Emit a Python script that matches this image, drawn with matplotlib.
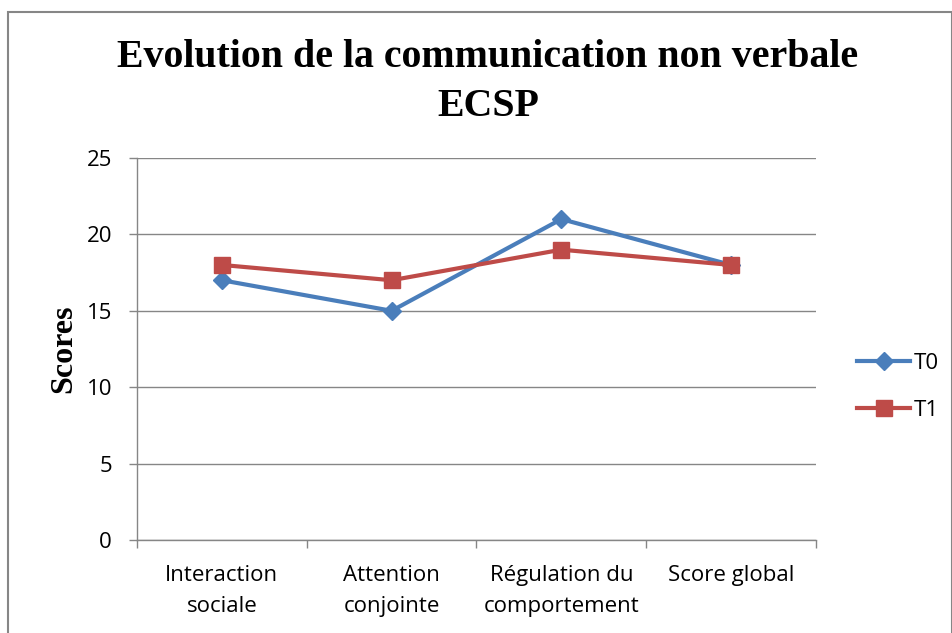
import matplotlib
matplotlib.use("Agg")
import matplotlib.pyplot as plt
from matplotlib.patches import Rectangle

categories = ["Interaction\nsociale", "Attention\nconjointe", "Régulation du\ncomportement", "Score global"]
t0 = [17, 15, 21, 18]
t1 = [18, 17, 19, 18]
yticks = [0, 5, 10, 15, 20, 25]

W, H = 953, 633
fig = plt.figure(figsize=(W / 100, H / 100), dpi=100)
ax = fig.add_axes([137 / W, 1 - 540 / H, (816 - 137) / W, (540 - 158) / H])

x = list(range(len(categories)))
ax.plot(x, t0, color="#4A7EBB", lw=3, marker="D", ms=9, label="T0", zorder=3)
ax.plot(x, t1, color="#BE4B48", lw=3, marker="s", ms=11, label="T1", zorder=3)

ax.set_xlim(-0.5, len(categories) - 0.5)
ax.set_ylim(0, 25)
ax.set_yticks(yticks)
ax.set_yticklabels([str(v) for v in yticks], fontfamily="Open Sans", fontsize=16)
ax.yaxis.grid(True, color="#868686", lw=1)
ax.set_axisbelow(True)

ax.set_xticks(x)
ax.set_xticklabels(categories, fontfamily="Open Sans", fontsize=16, linespacing=1.65)
ax.set_xticks([i - 0.5 for i in range(len(categories) + 1)], minor=True)
ax.tick_params(axis="x", which="major", length=0, pad=18)
ax.tick_params(axis="x", which="minor", length=6, color="#868686", width=1)
ax.tick_params(axis="y", length=6, color="#868686", width=1, pad=12)

for s in ["top", "right"]:
    ax.spines[s].set_visible(False)
for s in ["left", "bottom"]:
    ax.spines[s].set_color("#868686")
    ax.spines[s].set_linewidth(1)

ax.set_ylabel("Scores", fontfamily="Liberation Serif", fontweight="bold", fontsize=23, labelpad=6)

fig.text(488 / W, 1 - 82 / H, "Evolution de la communication non verbale\nECSP",
         ha="center", va="center", fontfamily="Liberation Serif", fontweight="bold",
         fontsize=28.7, linespacing=1.4)

leg = ax.legend(loc="center left", bbox_to_anchor=(837 / W, 1 - 387 / H), bbox_transform=fig.transFigure,
                frameon=False, prop={"family": "Open Sans", "size": 16}, handlelength=2.4,
                labelspacing=1.15, handletextpad=0.15)

fig.patches.append(Rectangle((8 / W, -0.1), (W - 9) / W, 1.1 - 12 / H, transform=fig.transFigure,
                             fill=False, edgecolor="#868686", lw=1.5, figure=fig))

fig.savefig("out.png", dpi=100)
